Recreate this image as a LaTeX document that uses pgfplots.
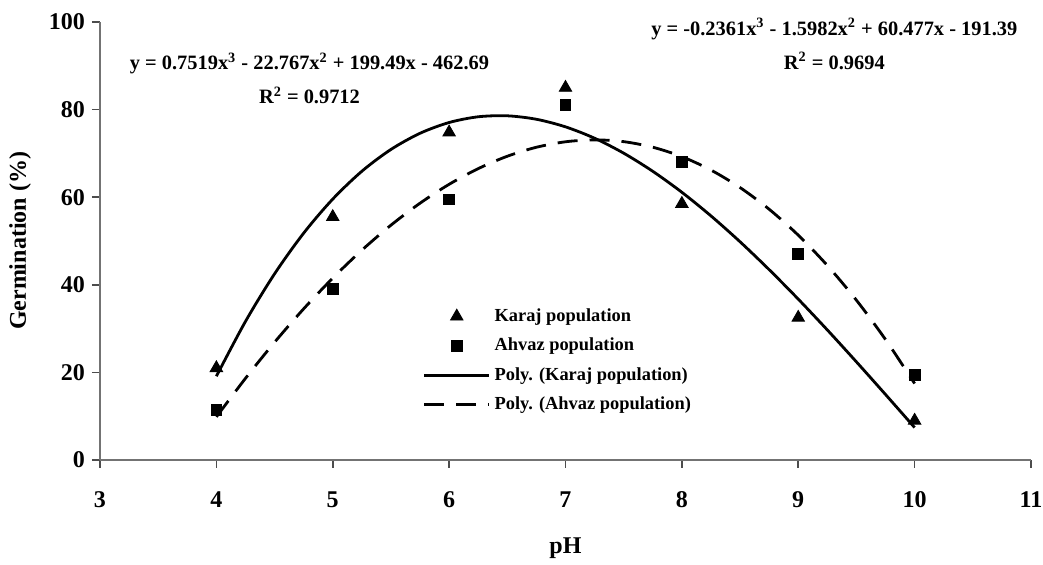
\documentclass[border=0pt]{standalone}
\usepackage{fontspec}
\setmainfont{Liberation Serif}
\usepackage{pgfplots}
\pgfplotsset{compat=1.18}
\begin{document}
\begin{tikzpicture}
\begin{axis}[
  scale only axis, width=465.5pt, height=219pt,
  xmin=3, xmax=11, ymin=0, ymax=100,
  xtick={3,4,...,11}, ytick={0,20,...,100},
  axis lines*=left,
  axis line style={black!55, line width=0.8pt},
  tick style={black!70, line width=0.8pt},
  tick align=outside, major tick length=4pt,
  /pgf/number format/assume math mode=true,
  every tick label/.append style={font=\bfseries\fontsize{12}{14}\selectfont},
  xticklabel style={text height=8pt, text depth=0pt, yshift=-8pt},
  xlabel={pH}, ylabel={Germination (\%)},
  label style={font=\bfseries\fontsize{12}{14}\selectfont},
  xlabel style={at={(axis description cs:0.5,0)}, anchor=center, yshift=-44pt},
  ylabel style={at={(axis description cs:0,0.5)}, anchor=center, yshift=40pt},
  legend style={at={(axis cs:5.72,36.5)}, anchor=north west, draw=none, fill=none,
    font=\bfseries\fontsize{9.2}{11}\selectfont, row sep=2.8pt},
  legend cell align=left,
  legend image code/.code={\draw[mark repeat=2,mark phase=2] plot coordinates {(0cm,0cm) (0.57cm,0cm) (1.14cm,0cm)};},
  clip=false,
]
\coordinate (O) at (rel axis cs:0,0);
\addplot[only marks, mark=triangle*, mark size=3.6pt, black] coordinates {
(4,21) (5,55.5) (6,74.8) (7,85) (8,58.5) (9,32.5) (10,9)};
\addlegendentry{Karaj population}
\addplot[only marks, mark=square*, mark size=2.7pt, black] coordinates {
(4,11.5) (5,39) (6,59.5) (7,81) (8,68) (9,47) (10,19.5)};
\addlegendentry{Ahvaz population}
\addplot[black, line width=1.4pt, smooth] coordinates {
(4,19.12) (4.25,31.63) (4.5,42.50) (4.75,51.79) (5,59.57) (5.25,65.92) (5.5,70.90) (5.75,74.59)
(6,77.05) (6.25,78.36) (6.5,78.58) (6.75,77.79) (7,76.06) (7.25,73.46) (7.5,70.05) (7.75,65.91)
(8,61.12) (8.25,55.73) (8.5,49.82) (8.75,43.46) (9,36.73) (9.25,29.69) (9.5,22.40) (9.75,14.95) (10,7.41)};
\addlegendentry{Poly. (Karaj population)}
\addplot[black, line width=1.4pt, smooth, dash pattern=on 10pt off 6pt] coordinates {
(4,9.84) (4.25,18.64) (4.5,26.88) (4.75,34.51) (5,41.53) (5.25,47.90) (5.5,53.61) (5.75,58.63)
(6,62.94) (6.25,66.52) (6.5,69.35) (6.75,71.40) (7,72.65) (7.25,73.09) (7.5,72.68) (7.75,71.41)
(8,69.26) (8.25,66.19) (8.5,62.20) (8.75,57.25) (9,51.33) (9.25,44.41) (9.5,36.48) (9.75,27.50) (10,17.46)};
\addlegendentry{Poly. (Ahvaz population)}
\node[font=\bfseries\fontsize{10.2}{12}\selectfont, align=center] at (axis cs:4.80,87.2)
  {y = 0.7519x\textsuperscript{3} - 22.767x\textsuperscript{2} + 199.49x - 462.69\\[5pt] R\textsuperscript{2} = 0.9712};
\node[font=\bfseries\fontsize{10.2}{12}\selectfont, align=center] at (axis cs:9.31,95.0)
  {y = -0.2361x\textsuperscript{3} - 1.5982x\textsuperscript{2} + 60.477x - 191.39\\[5pt] R\textsuperscript{2} = 0.9694};
\end{axis}
\pgfresetboundingbox
\path (O) ++(-50pt,-52.5pt) rectangle ++(521.5pt,282.5pt);
\end{tikzpicture}
\end{document}
